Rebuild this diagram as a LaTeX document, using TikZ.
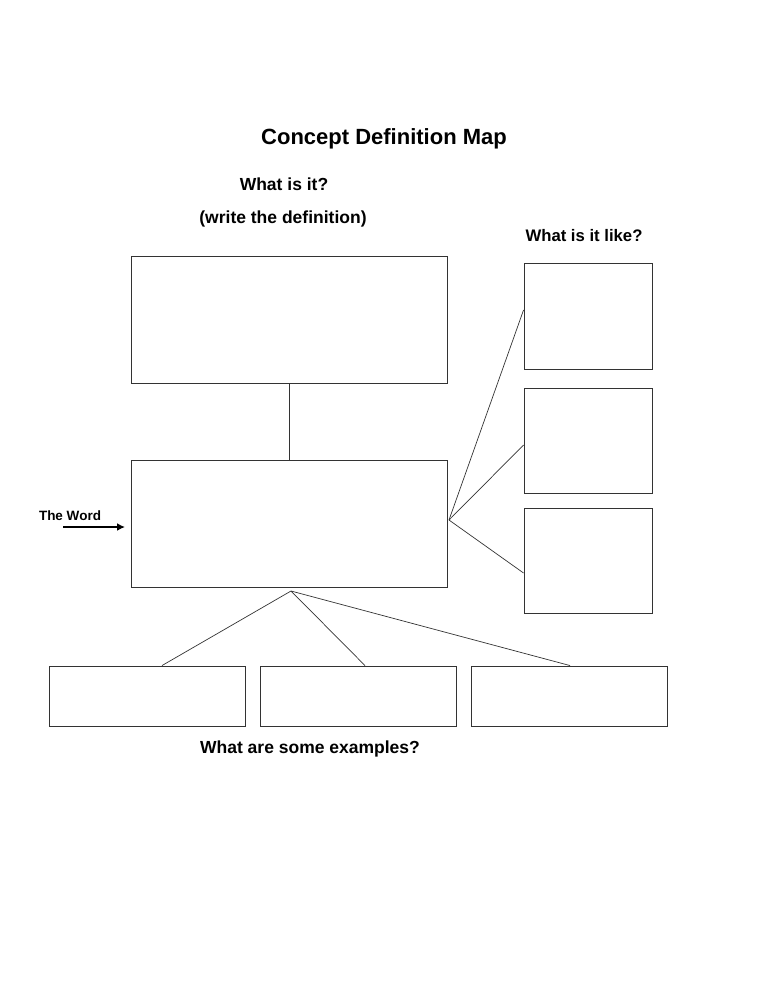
\documentclass[tikz,border=0pt]{standalone}
\usepackage{fontspec}
\setmainfont{Liberation Sans}
\usetikzlibrary{positioning,arrows.meta}
\tikzset{
  mapbox/.style={draw=black!80,line width=0.9pt,inner sep=0pt},
  caption/.style={font=\bfseries\fontsize{17.5}{20}\selectfont},
}
\begin{document}
\begin{tikzpicture}[x=1pt,y=-1pt]
  \useasboundingbox (0,0) rectangle (768,994);
  % titles
  \node [font=\bfseries\fontsize{22}{26}\selectfont] (title) at (384,139) {Concept Definition Map};
  \node [caption] (whatis) at (284,184) {What is it?};
  \node [caption] (writedef) at (283,219) {(write the definition)};
  \node [caption,font=\bfseries\fontsize{16.7}{20}\selectfont] (like) at (584,236) {What is it like?};
  \node [caption] (examples) at (310,749) {What are some examples?};
  % main boxes
  \node [mapbox,minimum width=316pt,minimum height=127pt] (def) at (289,319.5) {};
  \node [mapbox,minimum width=316pt,minimum height=127pt] (word) at (289,523.5) {};
  % right boxes
  \node [mapbox,minimum width=128pt,minimum height=106pt] (likeA) at (588,316) {};
  \node [mapbox,minimum width=128pt,minimum height=105pt] (likeB) at (588,440.5) {};
  \node [mapbox,minimum width=128pt,minimum height=105pt] (likeC) at (588,560.5) {};
  % bottom boxes
  \node [mapbox,minimum width=196pt,minimum height=60pt] (exA) at (147,696) {};
  \node [mapbox,minimum width=196pt,minimum height=60pt] (exB) at (358,696) {};
  \node [mapbox,minimum width=196pt,minimum height=60pt] (exC) at (569,696) {};
  % connectors
  \draw [black!80,line width=0.7pt] (def.south) -- (word.north);
  \coordinate (R) at (449,520);
  \draw [black!80,line width=0.7pt] (R) -- (likeA.west |- 0,310);
  \draw [black!80,line width=0.7pt] (R) -- (likeB.west |- 0,445);
  \draw [black!80,line width=0.7pt] (R) -- (likeC.west |- 0,573);
  \coordinate (B) at (291,591);
  \draw [black!80,line width=0.7pt] (B) -- (exA.north -| 162,0);
  \draw [black!80,line width=0.7pt] (B) -- (exB.north -| 365,0);
  \draw [black!80,line width=0.7pt] (B) -- (exC.north -| 570,0);
  % the word
  \node [font=\bfseries\fontsize{13.5}{16}\selectfont] (theword) at (70,516) {The Word};
  \coordinate (W) at (63,527);
  \draw [-{Latex[length=8pt,width=8pt]},line width=2.2pt] (W) -- (125,527);
\end{tikzpicture}
\end{document}
